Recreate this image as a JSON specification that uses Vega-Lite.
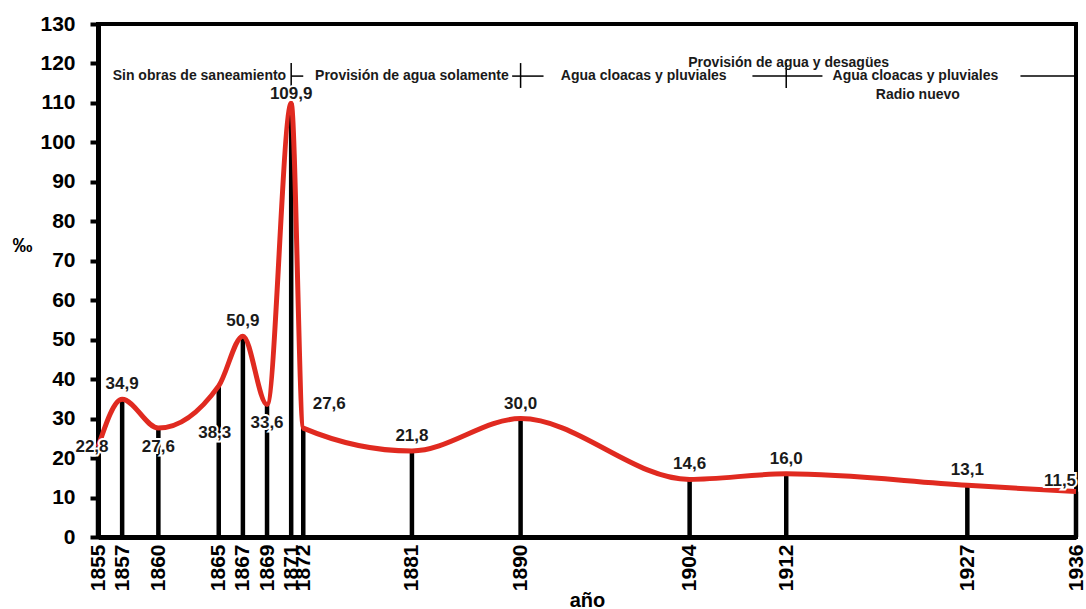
{
  "$schema": "https://vega.github.io/schema/vega-lite/v6.json",
  "width": 978,
  "height": 513,
  "autosize": "none",
  "padding": {"left": 98, "top": 24, "right": 10, "bottom": 72},
  "background": "white",
  "config": {
    "locale": {"number": {"decimal": ",", "thousands": ".", "grouping": [3], "currency": ["", " €"]}},
    "view": {"stroke": "black", "strokeWidth": 4},
    "font": "Liberation Sans"
  },
  "datasets": {
    "mort": [
      {"year": 1855, "value": 22.8},
      {"year": 1857, "value": 34.9},
      {"year": 1860, "value": 27.6},
      {"year": 1865, "value": 38.3},
      {"year": 1867, "value": 50.9},
      {"year": 1869, "value": 33.6},
      {"year": 1871, "value": 109.9},
      {"year": 1872, "value": 27.6},
      {"year": 1881, "value": 21.8},
      {"year": 1890, "value": 30.0},
      {"year": 1904, "value": 14.6},
      {"year": 1912, "value": 16.0},
      {"year": 1927, "value": 13.1},
      {"year": 1936, "value": 11.5}
    ],
    "periods": [
      {"text": "Sin obras de saneamiento", "year": 1863.4, "value": 116.8},
      {"text": "Provisión de agua solamente", "year": 1881.0, "value": 116.8},
      {"text": "Agua cloacas y pluviales", "year": 1900.2, "value": 116.8},
      {"text": "Provisión de agua y desagües", "year": 1912.2, "value": 120.2},
      {"text": "Agua cloacas y pluviales", "year": 1922.7, "value": 116.8},
      {"text": "Radio nuevo", "year": 1922.9, "value": 112.0}
    ],
    "segments": [
      {"year": 1871, "year2": 1871, "value": 113.8, "value2": 120.1},
      {"year": 1871, "year2": 1872, "value": 116.8, "value2": 116.8},
      {"year": 1890, "year2": 1890, "value": 113.8, "value2": 120.1},
      {"year": 1889.3, "year2": 1891.9, "value": 116.8, "value2": 116.8},
      {"year": 1912, "year2": 1912, "value": 113.8, "value2": 120.1},
      {"year": 1909.2, "year2": 1915.0, "value": 116.8, "value2": 116.8},
      {"year": 1931.4, "year2": 1936, "value": 116.8, "value2": 116.8}
    ]
  },
  "encoding": {
    "x": {
      "field": "year", "type": "quantitative",
      "scale": {"domain": [1855, 1936], "nice": false, "zero": false},
      "axis": {
        "values": [1855, 1857, 1860, 1865, 1867, 1869, 1871, 1872, 1881, 1890, 1904, 1912, 1927, 1936],
        "format": "d",
        "labelAngle": -90,
        "labelFont": "Liberation Sans",
        "labelFontSize": 21,
        "labelFontWeight": "bold",
        "labelColor": "black",
        "labelPadding": 7,
        "labelOverlap": false,
        "labelFlush": false,
        "ticks": false,
        "grid": false,
        "domainColor": "black",
        "domainWidth": 5,
        "title": "año",
        "titleFont": "Liberation Sans",
        "titleFontSize": 20,
        "titleFontWeight": "bold",
        "titleColor": "black",
        "titleY": 69,
        "titleBaseline": "alphabetic"
      }
    },
    "y": {
      "field": "value", "type": "quantitative",
      "scale": {"domain": [0, 130], "nice": false, "zero": true},
      "axis": {
        "values": [0, 10, 20, 30, 40, 50, 60, 70, 80, 90, 100, 110, 120, 130],
        "format": "d",
        "labelFont": "Liberation Sans",
        "labelFontSize": 21,
        "labelFontWeight": "bold",
        "labelColor": "black",
        "labelOverlap": false,
        "labelFlush": false,
        "labelPadding": 15,
        "tickSize": 8,
        "tickWidth": 4,
        "tickColor": "black",
        "grid": false,
        "domainColor": "black",
        "domainWidth": 5,
        "title": "‰",
        "titleAngle": 0,
        "titleFont": "Liberation Sans",
        "titleFontSize": 20,
        "titleFontWeight": "bold",
        "titleColor": "black",
        "titleX": -76,
        "titleY": 221,
        "titleAlign": "center",
        "titleBaseline": "middle"
      }
    }
  },
  "layer": [
    {
      "data": {"name": "mort"},
      "mark": {"type": "rule", "color": "black", "strokeWidth": 4.5},
      "encoding": {"y2": {"datum": 0}}
    },
    {
      "data": {"name": "mort"},
      "mark": {"type": "line", "color": "#e02a20", "strokeWidth": 5, "interpolate": "monotone"},
      "encoding": {}
    },
    {
      "data": {"name": "segments"},
      "mark": {"type": "rule", "color": "black", "strokeWidth": 1.5},
      "encoding": {"x2": {"field": "year2"}, "y2": {"field": "value2"}}
    },
    {
      "data": {"name": "periods"},
      "mark": {"type": "text", "font": "Liberation Sans", "fontSize": 14, "fontWeight": "bold", "color": "#1a1a1a", "align": "center", "baseline": "middle"},
      "encoding": {"text": {"field": "text"}}
    },
    {
      "data": {"name": "mort"},
      "transform": [{"filter": {"field": "year", "oneOf": [1857, 1867, 1881, 1890, 1904, 1912, 1927]}}],
      "encoding": {"text": {"field": "value", "type": "quantitative", "format": ".1f"}},
      "layer": [
        {"mark": {"type": "text", "dy": -15, "font": "Liberation Sans", "fontSize": 17, "fontWeight": "bold", "color": "white", "stroke": "white", "strokeWidth": 4}},
        {"mark": {"type": "text", "dy": -15, "font": "Liberation Sans", "fontSize": 17, "fontWeight": "bold", "color": "#1a1a1a"}}
      ]
    },
    {
      "data": {"name": "mort"},
      "transform": [{"filter": {"field": "year", "oneOf": [1871]}}],
      "encoding": {"text": {"field": "value", "type": "quantitative", "format": ".1f"}},
      "layer": [
        {"mark": {"type": "text", "dy": -9, "font": "Liberation Sans", "fontSize": 17, "fontWeight": "bold", "color": "white", "stroke": "white", "strokeWidth": 4}},
        {"mark": {"type": "text", "dy": -9, "font": "Liberation Sans", "fontSize": 17, "fontWeight": "bold", "color": "#1a1a1a"}}
      ]
    },
    {
      "data": {"name": "mort"},
      "transform": [{"filter": {"field": "year", "oneOf": [1936]}}],
      "encoding": {"text": {"field": "value", "type": "quantitative", "format": ".1f"}},
      "layer": [
        {"mark": {"type": "text", "dx": -16, "dy": -11, "font": "Liberation Sans", "fontSize": 17, "fontWeight": "bold", "color": "white", "stroke": "white", "strokeWidth": 4}},
        {"mark": {"type": "text", "dx": -16, "dy": -11, "font": "Liberation Sans", "fontSize": 17, "fontWeight": "bold", "color": "#1a1a1a"}}
      ]
    },
    {
      "data": {"name": "mort"},
      "transform": [{"filter": {"field": "year", "oneOf": [1860, 1869]}}],
      "encoding": {"text": {"field": "value", "type": "quantitative", "format": ".1f"}},
      "layer": [
        {"mark": {"type": "text", "dy": 19, "font": "Liberation Sans", "fontSize": 17, "fontWeight": "bold", "color": "white", "stroke": "white", "strokeWidth": 4}},
        {"mark": {"type": "text", "dy": 19, "font": "Liberation Sans", "fontSize": 17, "fontWeight": "bold", "color": "#1a1a1a"}}
      ]
    },
    {
      "data": {"name": "mort"},
      "transform": [{"filter": {"field": "year", "oneOf": [1865]}}],
      "encoding": {"text": {"field": "value", "type": "quantitative", "format": ".1f"}},
      "layer": [
        {"mark": {"type": "text", "dx": -4, "dy": 47, "font": "Liberation Sans", "fontSize": 17, "fontWeight": "bold", "color": "white", "stroke": "white", "strokeWidth": 4}},
        {"mark": {"type": "text", "dx": -4, "dy": 47, "font": "Liberation Sans", "fontSize": 17, "fontWeight": "bold", "color": "#1a1a1a"}}
      ]
    },
    {
      "data": {"name": "mort"},
      "transform": [{"filter": {"field": "year", "oneOf": [1855]}}],
      "encoding": {"text": {"field": "value", "type": "quantitative", "format": ".1f"}},
      "layer": [
        {"mark": {"type": "text", "dx": -6, "dy": 0, "font": "Liberation Sans", "fontSize": 17, "fontWeight": "bold", "color": "white", "stroke": "white", "strokeWidth": 4}},
        {"mark": {"type": "text", "dx": -6, "dy": 0, "font": "Liberation Sans", "fontSize": 17, "fontWeight": "bold", "color": "#1a1a1a"}}
      ]
    },
    {
      "data": {"name": "mort"},
      "transform": [{"filter": {"field": "year", "oneOf": [1872]}}],
      "encoding": {"text": {"field": "value", "type": "quantitative", "format": ".1f"}},
      "layer": [
        {"mark": {"type": "text", "dx": 26, "dy": -24, "font": "Liberation Sans", "fontSize": 17, "fontWeight": "bold", "color": "white", "stroke": "white", "strokeWidth": 4}},
        {"mark": {"type": "text", "dx": 26, "dy": -24, "font": "Liberation Sans", "fontSize": 17, "fontWeight": "bold", "color": "#1a1a1a"}}
      ]
    }
  ]
}
